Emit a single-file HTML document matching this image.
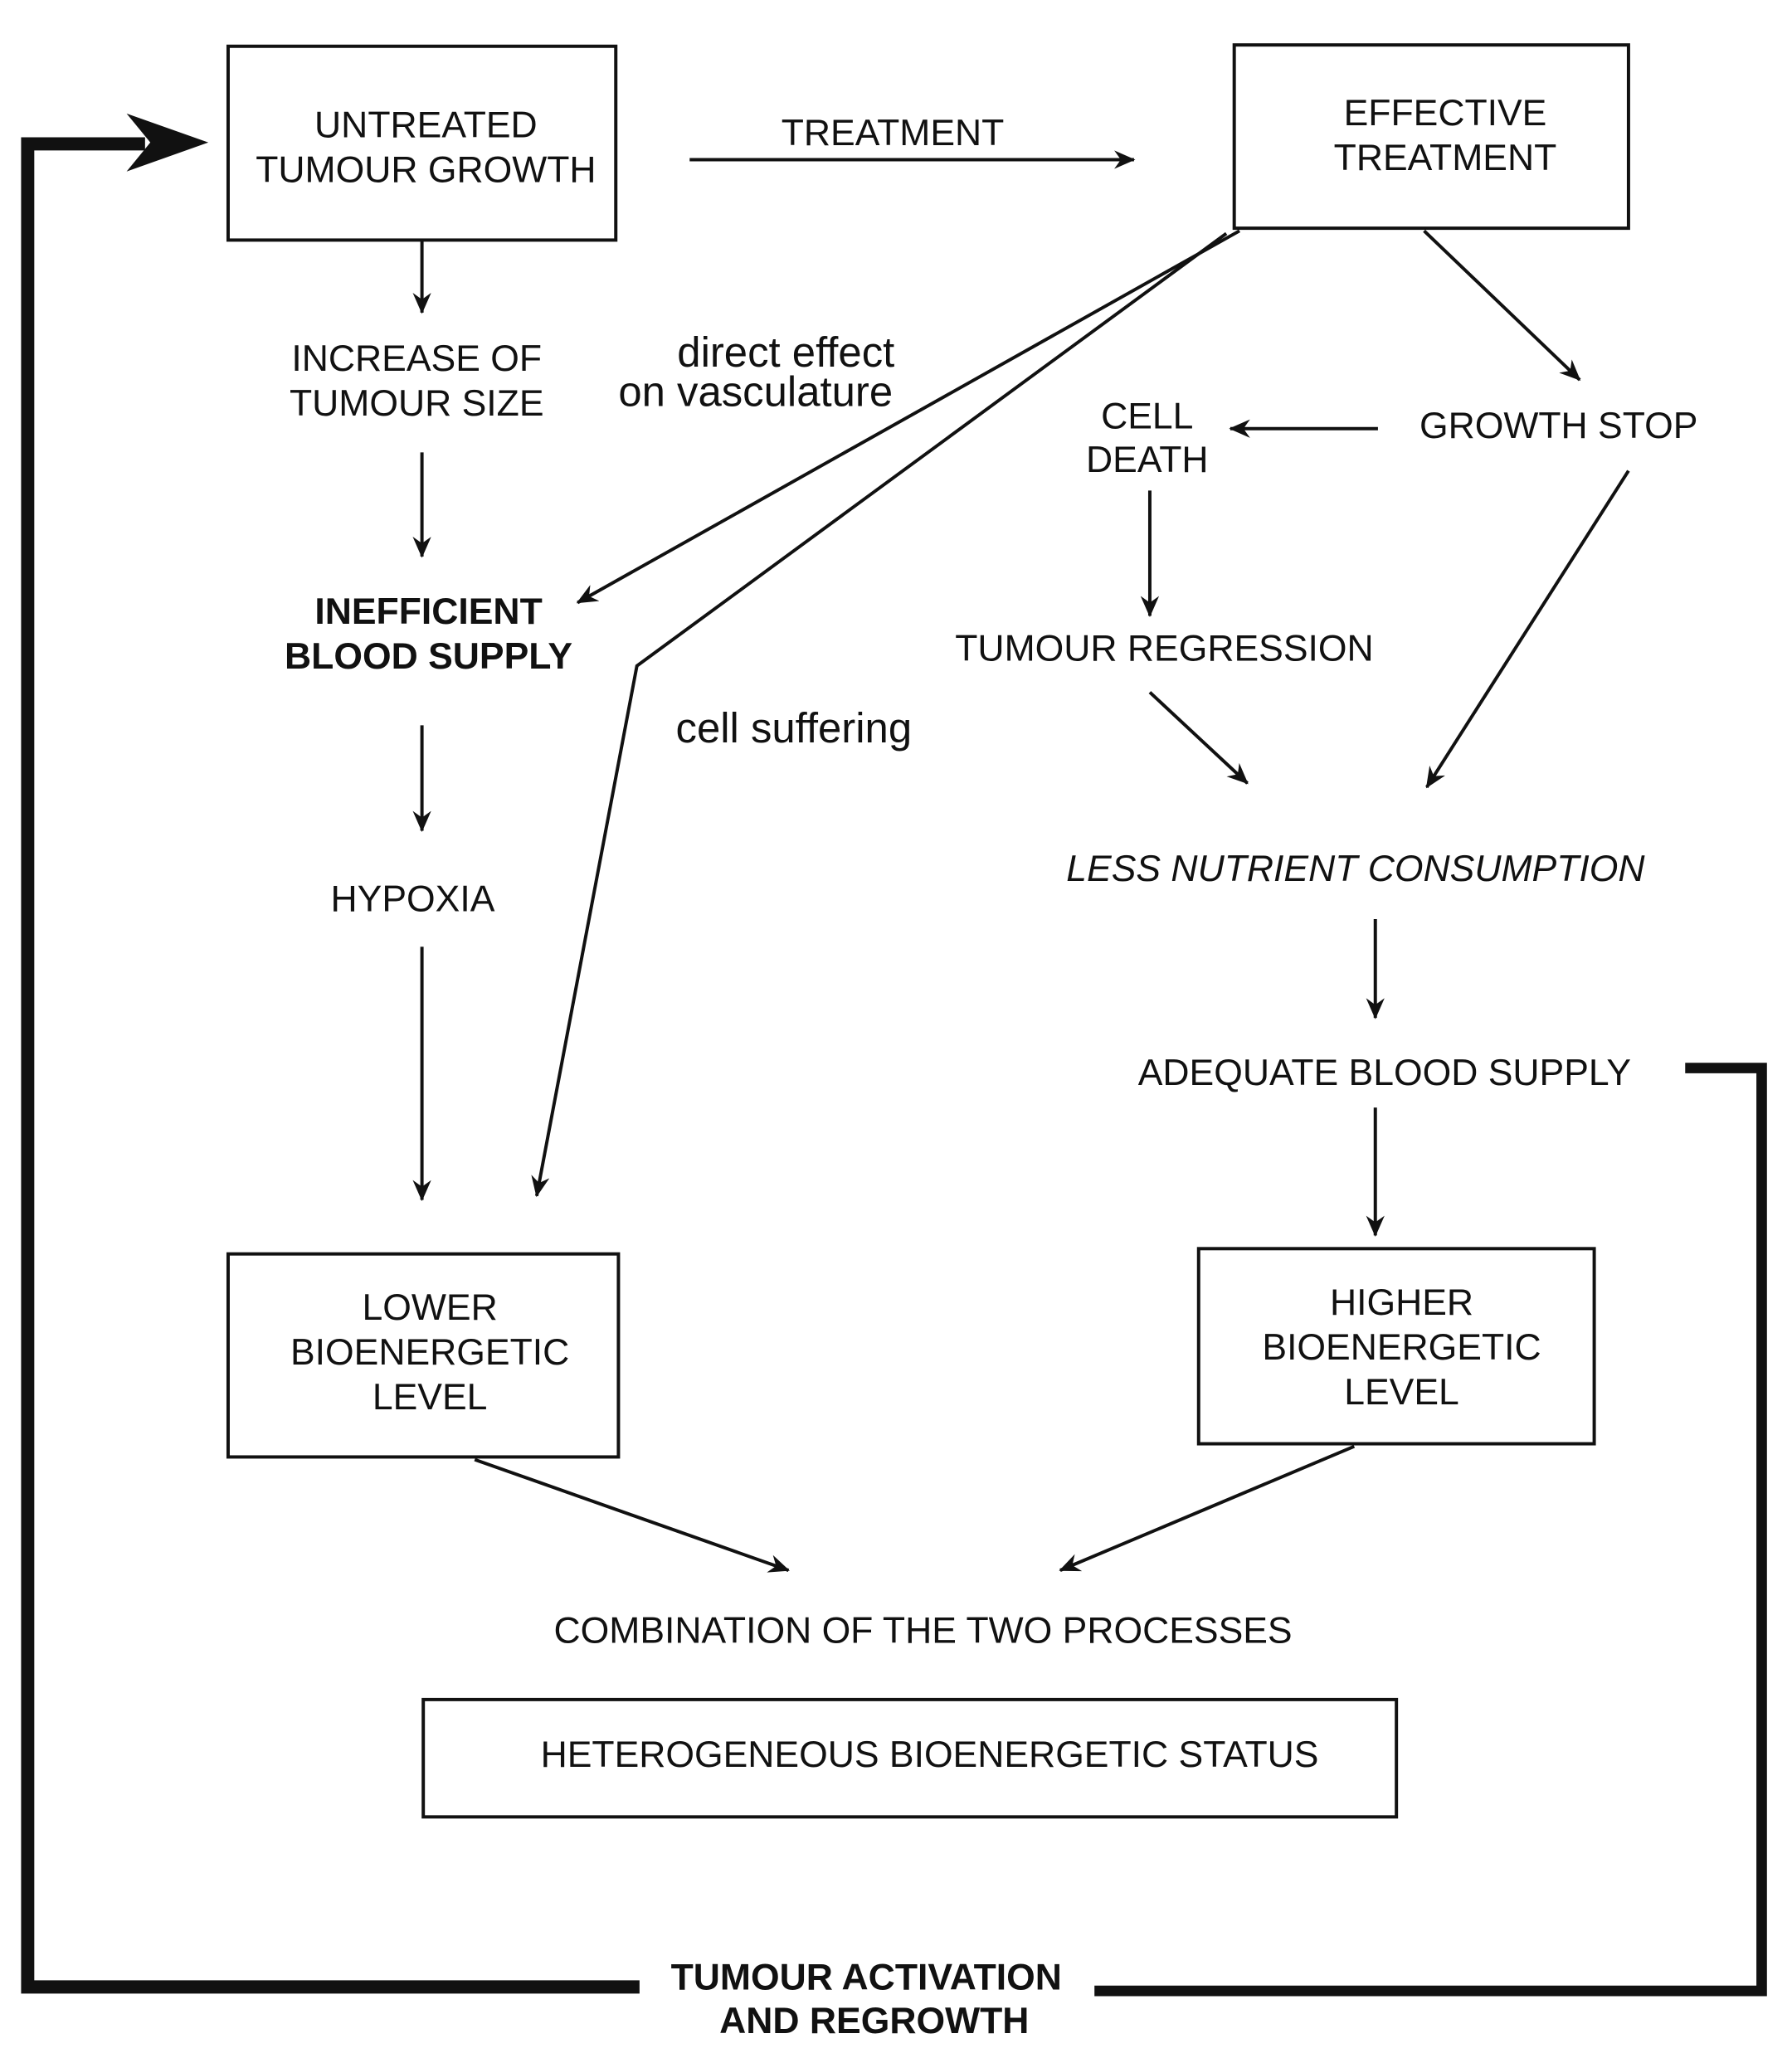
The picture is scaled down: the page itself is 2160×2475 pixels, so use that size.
<!DOCTYPE html>
<html><head><meta charset="utf-8"><style>html,body{margin:0;padding:0;background:#fff}svg{display:block}</style></head>
<body>
<svg width="2160" height="2475" viewBox="0 0 1359 1557" xmlns="http://www.w3.org/2000/svg" font-family="Liberation Sans, sans-serif" fill="#111">
<defs>
<marker id="a" viewBox="0 0 16 14" refX="15" refY="7" markerWidth="16" markerHeight="14" markerUnits="userSpaceOnUse" orient="auto"><path d="M0,0 L16,7 L0,14 L5,7 Z" fill="#111"/></marker>
</defs>
<g fill="none" stroke="#111" stroke-width="2.5">
<rect x="173" y="35" width="294" height="147"/>
<rect x="936" y="34" width="299" height="139"/>
<rect x="173" y="951" width="296" height="154"/>
<rect x="909" y="947" width="300" height="148"/>
<rect x="321" y="1289" width="738" height="89"/>
</g>
<g fill="none" stroke="#111" stroke-width="2.5" marker-end="url(#a)">
<line x1="523" y1="121" x2="860" y2="121"/>
<line x1="320" y1="183" x2="320" y2="237"/>
<line x1="320" y1="343" x2="320" y2="422"/>
<line x1="320" y1="550" x2="320" y2="630"/>
<line x1="320" y1="718" x2="320" y2="910"/>
<line x1="940" y1="175" x2="438" y2="457"/>
<polyline points="930,177 483,505 407,907"/>
<line x1="1080" y1="175" x2="1198" y2="288"/>
<line x1="1045" y1="325" x2="933" y2="325"/>
<line x1="872" y1="372" x2="872" y2="467"/>
<line x1="872" y1="525" x2="946" y2="594"/>
<line x1="1235" y1="357" x2="1082" y2="597"/>
<line x1="1043" y1="697" x2="1043" y2="772"/>
<line x1="1043" y1="840" x2="1043" y2="937"/>
<line x1="360" y1="1107" x2="598" y2="1191"/>
<line x1="1027" y1="1097" x2="804" y2="1191"/>
</g>
<polyline points="485,1507 21,1507 21,109 110,109" fill="none" stroke="#111" stroke-width="10"/>
<path d="M158,108 L96,86 L114,108 L96,130 Z" fill="#111"/>
<polyline points="1278,810 1336,810 1336,1510 830,1510" fill="none" stroke="#111" stroke-width="8"/>
<g font-size="28" text-anchor="middle">
<text x="323" y="104">UNTREATED</text>
<text x="323" y="138">TUMOUR GROWTH</text>
<text x="677" y="110">TREATMENT</text>
<text x="1096" y="95">EFFECTIVE</text>
<text x="1096" y="129">TREATMENT</text>
<text x="316" y="281">INCREASE OF</text>
<text x="316" y="315">TUMOUR SIZE</text>
<text x="325" y="473" font-weight="bold">INEFFICIENT</text>
<text x="325" y="507" font-weight="bold">BLOOD SUPPLY</text>
<text x="313" y="691">HYPOXIA</text>
<text x="870" y="325">CELL</text>
<text x="870" y="358">DEATH</text>
<text x="1182" y="332">GROWTH STOP</text>
<text x="883" y="501">TUMOUR REGRESSION</text>
<text x="1028" y="668" font-style="italic">LESS NUTRIENT CONSUMPTION</text>
<text x="1050" y="823">ADEQUATE BLOOD SUPPLY</text>
<text x="326" y="1001">LOWER</text>
<text x="326" y="1035">BIOENERGETIC</text>
<text x="326" y="1069">LEVEL</text>
<text x="1063" y="997">HIGHER</text>
<text x="1063" y="1031">BIOENERGETIC</text>
<text x="1063" y="1065">LEVEL</text>
<text x="700" y="1246">COMBINATION OF THE TWO PROCESSES</text>
<text x="705" y="1340">HETEROGENEOUS BIOENERGETIC STATUS</text>
<text x="657" y="1509" font-weight="bold">TUMOUR ACTIVATION</text>
<text x="663" y="1542" font-weight="bold">AND  REGROWTH</text>
</g>
<g font-size="32" text-anchor="middle">
<text x="596" y="278">direct effect</text>
<text x="573" y="308">on vasculature</text>
<text x="602" y="563">cell  suffering</text>
</g>
</svg>
</body></html>
